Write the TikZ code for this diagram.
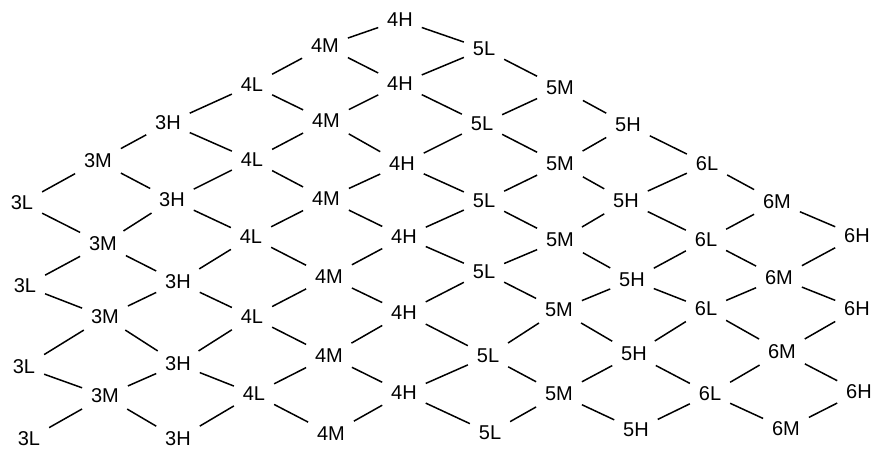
\documentclass[tikz,border=0pt]{standalone}
\usepackage{fontspec}
\setmainfont{Liberation Sans}
\usepackage{tikz}

\begin{document}
\begin{tikzpicture}[x=1pt, y=-1pt, font=\fontsize{20}{24}\selectfont]
\tikzstyle{grade} = [rectangle, inner xsep=9pt, inner ysep=6pt, outer sep=0pt]
\tikzstyle{line} = [draw, line width=1.5pt]
\useasboundingbox (0,0) rectangle (873,450);

 % column 3
 \node [grade] (3L1) at (22,203) {3L};
 \node [grade] (3L2) at (25,286) {3L};
 \node [grade] (3L3) at (24,367) {3L};
 \node [grade] (3L4) at (29,439) {3L};
 \node [grade] (3M1) at (98,161) {3M};
 \node [grade] (3M2) at (103,244) {3M};
 \node [grade] (3M3) at (105,317) {3M};
 \node [grade] (3M4) at (105,396) {3M};
 \node [grade] (3H1) at (168,123) {3H};
 \node [grade] (3H2) at (172,200) {3H};
 \node [grade] (3H3) at (178,282) {3H};
 \node [grade] (3H4) at (178,364) {3H};
 \node [grade] (3H5) at (178,439) {3H};

 % column 4
 \node [grade] (4L1) at (252,85) {4L};
 \node [grade] (4L2) at (252,160) {4L};
 \node [grade] (4L3) at (251,237) {4L};
 \node [grade] (4L4) at (252,317) {4L};
 \node [grade] (4L5) at (254,394) {4L};
 \node [grade] (4M1) at (325,46) {4M};
 \node [grade] (4M2) at (326,121) {4M};
 \node [grade] (4M3) at (326,199) {4M};
 \node [grade] (4M4) at (329,277) {4M};
 \node [grade] (4M5) at (329,356) {4M};
 \node [grade] (4M6) at (331,434) {4M};
 \node [grade] (4H1) at (400,20) {4H};
 \node [grade] (4H2) at (400,84) {4H};
 \node [grade] (4H3) at (402,164) {4H};
 \node [grade] (4H4) at (404,237) {4H};
 \node [grade] (4H5) at (404,313) {4H};
 \node [grade] (4H6) at (404,393) {4H};

 % column 5
 \node [grade] (5L1) at (484,49) {5L};
 \node [grade] (5L2) at (482,124) {5L};
 \node [grade] (5L3) at (484,201) {5L};
 \node [grade] (5L4) at (484,272) {5L};
 \node [grade] (5L5) at (488,356) {5L};
 \node [grade] (5L6) at (490,433) {5L};
 \node [grade] (5M1) at (560,88) {5M};
 \node [grade] (5M2) at (560,164) {5M};
 \node [grade] (5M3) at (560,240) {5M};
 \node [grade] (5M4) at (559,310) {5M};
 \node [grade] (5M5) at (559,394) {5M};
 \node [grade] (5H1) at (628,125) {5H};
 \node [grade] (5H2) at (626,201) {5H};
 \node [grade] (5H3) at (632,280) {5H};
 \node [grade] (5H4) at (634,354) {5H};
 \node [grade] (5H5) at (636,430) {5H};

 % column 6
 \node [grade] (6L1) at (707,164) {6L};
 \node [grade] (6L2) at (706,240) {6L};
 \node [grade] (6L3) at (706,309) {6L};
 \node [grade] (6L4) at (710,394) {6L};
 \node [grade] (6M1) at (777,202) {6M};
 \node [grade] (6M2) at (779,278) {6M};
 \node [grade] (6M3) at (782,352) {6M};
 \node [grade] (6M4) at (786,429) {6M};
 \node [grade] (6H1) at (857,236) {6H};
 \node [grade] (6H2) at (857,309) {6H};
 \node [grade] (6H3) at (859,392) {6H};

 % falling diagonals
 \path [line] (4H1) -- (5L1) -- (5M1) -- (5H1) -- (6L1) -- (6M1) -- (6H1);
 \path [line] (4M1) -- (4H2) -- (5L2) -- (5M2) -- (5H2) -- (6L2) -- (6M2) -- (6H2);
 \path [line] (4L1) -- (4M2) -- (4H3) -- (5L3) -- (5M3) -- (5H3) -- (6L3) -- (6M3) -- (6H3);
 \path [line] (3H1) -- (4L2) -- (4M3) -- (4H4) -- (5L4) -- (5M4) -- (5H4) -- (6L4) -- (6M4);
 \path [line] (3M1) -- (3H2) -- (4L3) -- (4M4) -- (4H5) -- (5L5) -- (5M5) -- (5H5);
 \path [line] (3L1) -- (3M2) -- (3H3) -- (4L4) -- (4M5) -- (4H6) -- (5L6);
 \path [line] (3L2) -- (3M3) -- (3H4) -- (4L5) -- (4M6);
 \path [line] (3L3) -- (3M4) -- (3H5);

 % rising diagonals
 \path [line] (3L1) -- (3M1) -- (3H1) -- (4L1) -- (4M1) -- (4H1);
 \path [line] (3L2) -- (3M2) -- (3H2) -- (4L2) -- (4M2) -- (4H2) -- (5L1);
 \path [line] (3L3) -- (3M3) -- (3H3) -- (4L3) -- (4M3) -- (4H3) -- (5L2) -- (5M1);
 \path [line] (3L4) -- (3M4) -- (3H4) -- (4L4) -- (4M4) -- (4H4) -- (5L3) -- (5M2) -- (5H1);
 \path [line] (3H5) -- (4L5) -- (4M5) -- (4H5) -- (5L4) -- (5M3) -- (5H2) -- (6L1);
 \path [line] (4M6) -- (4H6) -- (5L5) -- (5M4) -- (5H3) -- (6L2) -- (6M1);
 \path [line] (5L6) -- (5M5) -- (5H4) -- (6L3) -- (6M2) -- (6H1);
 \path [line] (5H5) -- (6L4) -- (6M3) -- (6H2);
 \path [line] (6M4) -- (6H3);
\end{tikzpicture}
\end{document}
